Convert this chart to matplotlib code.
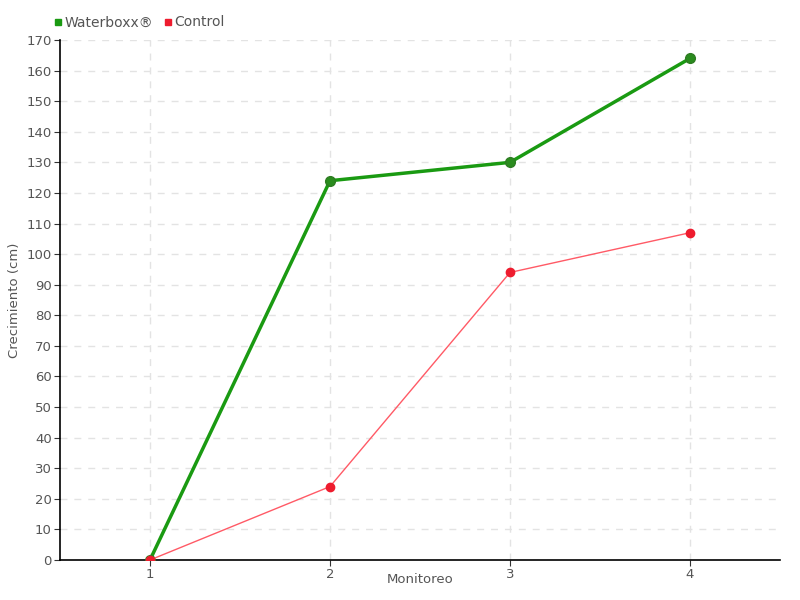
import matplotlib
matplotlib.use('Agg')
from matplotlib import pyplot as plt
from matplotlib.lines import Line2D

monitoreo = [1, 2, 3, 4]
waterboxx = [0, 124, 130, 164]
control = [0, 24, 94, 107]
yticks = list(range(0, 171, 10))

green = '#1a9a12'
red = '#ee1c2e'
text_c = '#555555'

fig = plt.figure(figsize=(8, 6), dpi=100)
ax = fig.add_axes([0.075, 0.0667, 0.9, 0.8666])

ax.plot(monitoreo, waterboxx, color=green, lw=2.5, marker='o', ms=7,
        mfc='#2a8c1e', mec='#2e7d22', zorder=3)
ax.plot(monitoreo, control, color='#ff5a66', lw=1, marker='o', ms=6,
        mfc=red, mec=red, zorder=4)

ax.set_xlim(0.5, 4.5)
ax.set_ylim(0, 170)
ax.set_xticks(monitoreo)
ax.set_yticks(yticks)
ax.grid(True, ls=(0, (5, 5)), color='#e3e3e3', lw=1)
ax.set_axisbelow(True)
for s in ['top', 'right']:
    ax.spines[s].set_visible(False)
for s in ['left', 'bottom']:
    ax.spines[s].set_linewidth(1.2)
ax.tick_params(axis='both', colors='#333333', labelcolor=text_c, labelsize=9.5,
               length=4, pad=2, direction='out')

ax.set_xlabel('Monitoreo', fontsize=9.5, color=text_c)
ax.set_ylabel('Crecimiento (cm)', fontsize=9.5, color=text_c)
ax.xaxis.set_label_coords(0.5, -0.025, transform=ax.transAxes)
ax.yaxis.set_label_coords(-0.054, 0.5, transform=ax.transAxes)

handles = [Line2D([], [], ls='none', marker='s', ms=5, color=green),
           Line2D([], [], ls='none', marker='s', ms=5, color=red)]
fig.legend(handles, ['Waterboxx®', 'Control'], loc='upper left', bbox_to_anchor=(0.05, 0.995),
           ncol=2, frameon=False, fontsize=10, handletextpad=0.1, columnspacing=0.6,
           handlelength=0.8, labelcolor=text_c)

fig.savefig('out.png')
